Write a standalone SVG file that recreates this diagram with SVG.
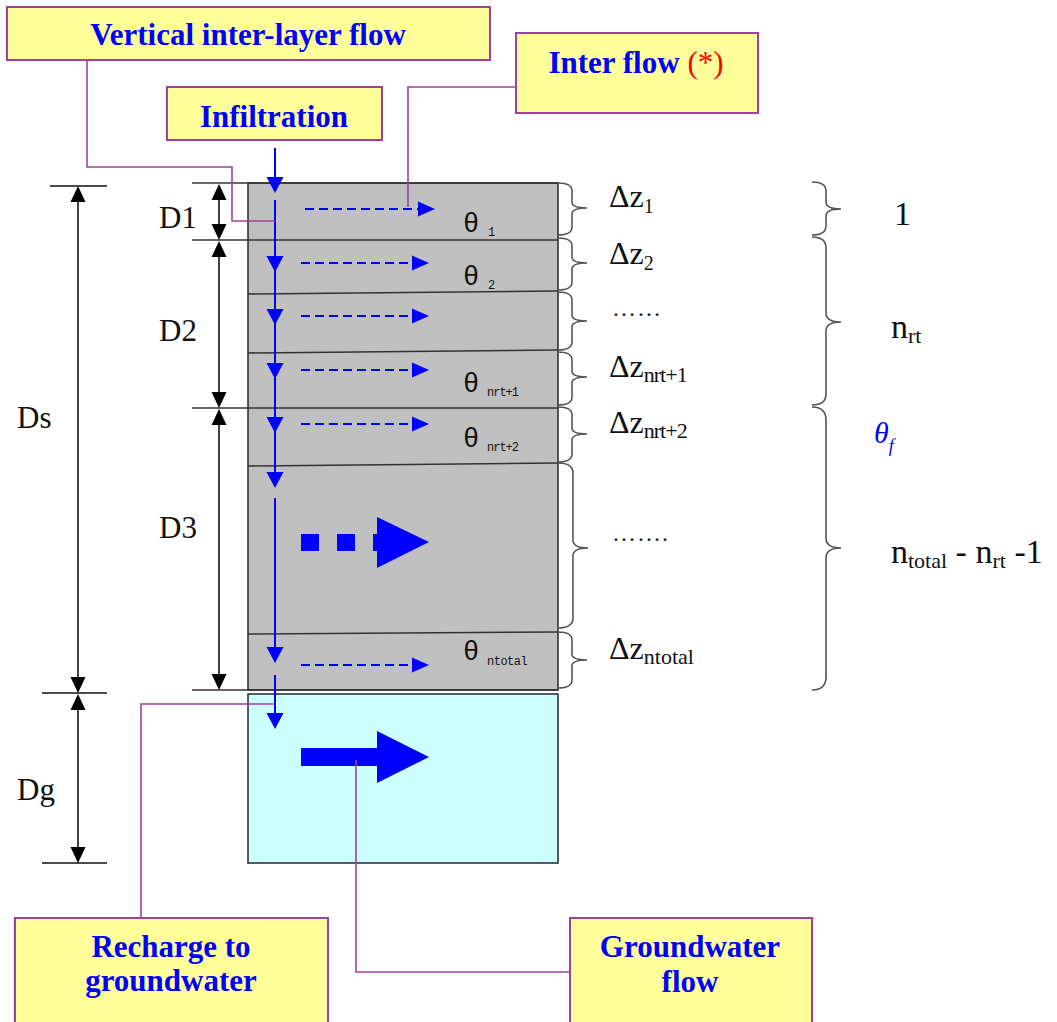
<svg xmlns="http://www.w3.org/2000/svg" xmlns:xlink="http://www.w3.org/1999/xlink" width="1057" height="1022" viewBox="0 0 1057 1022">
<style>
.box{fill:#ffff99;stroke:#a040a0;stroke-width:2}
.bt{font-family:"Liberation Serif","Times New Roman",serif;font-weight:bold;font-size:31px;fill:#0000ff;text-anchor:middle}
.conn{fill:none;stroke:#a040a0;stroke-width:1.6}
.blue{stroke:#0000ff;stroke-width:2;fill:none}
.dash{stroke:#0000ff;stroke-width:2;fill:none;stroke-dasharray:9,5}
.bf{fill:#0000ff}
.dim{stroke:#111;stroke-width:1.6;fill:none}
.layer{stroke:#333;stroke-width:1.6;fill:none}
.brace{stroke:#555;stroke-width:1.6;fill:none}
.lbl{font-family:"Liberation Serif","Times New Roman",serif;fill:#111}
.th{font-family:"Liberation Mono","Courier New",monospace;fill:#111}
</style>
<defs>
<path id="vhead" d="M-8.5,-16 L8.5,-16 L0,0 Z"/>
<path id="hhead" d="M-17,-7.5 L0,0 L-17,7.5 Z"/>
<path id="up" d="M0,0 L-7.5,16 L7.5,16 Z"/>
<path id="dn" d="M0,0 L-7.5,-16 L7.5,-16 Z"/>
</defs>

<!-- soil column -->
<g id="soil">
<rect x="248" y="183" width="310" height="507" fill="#c0c0c0" stroke="#333" stroke-width="1.6"/>
<line class="layer" x1="192" y1="183" x2="558" y2="183"/>
<line class="layer" x1="192" y1="240" x2="558" y2="240"/>
<path class="layer" d="M248,294 L558,291"/>
<path class="layer" d="M248,353 L558,350"/>
<line class="layer" x1="192" y1="408" x2="558" y2="408"/>
<path class="layer" d="M248,466 L558,463"/>
<path class="layer" d="M248,634 L558,632"/>
<line class="layer" x1="192" y1="690" x2="558" y2="690"/>
</g>
<g id="groundwater-zone">
<rect x="248" y="694" width="310" height="169" fill="#ccffff" stroke="#333" stroke-width="1.6"/>
</g>

<!-- flow arrows -->
<g id="flows">
<line class="blue" x1="275" y1="148" x2="275" y2="180"/>
<use xlink:href="#vhead" href="#vhead" x="275" y="193" class="bf"/>
<line class="blue" x1="275" y1="200" x2="275" y2="480"/>
<use xlink:href="#vhead" href="#vhead" x="275" y="272" class="bf"/>
<use xlink:href="#vhead" href="#vhead" x="275" y="325" class="bf"/>
<use xlink:href="#vhead" href="#vhead" x="275" y="379" class="bf"/>
<use xlink:href="#vhead" href="#vhead" x="275" y="433" class="bf"/>
<use xlink:href="#vhead" href="#vhead" x="275" y="488" class="bf"/>
<line class="blue" x1="275" y1="498" x2="275" y2="655"/>
<use xlink:href="#vhead" href="#vhead" x="275" y="663" class="bf"/>
<line class="blue" x1="275" y1="675" x2="275" y2="720"/>
<use xlink:href="#vhead" href="#vhead" x="275" y="729" class="bf"/>

<line class="dash" x1="305" y1="209" x2="418" y2="209"/>
<use xlink:href="#hhead" href="#hhead" x="435" y="209" class="bf"/>
<line class="dash" x1="301" y1="263" x2="412" y2="263"/>
<use xlink:href="#hhead" href="#hhead" x="429" y="263" class="bf"/>
<line class="dash" x1="301" y1="316" x2="412" y2="316"/>
<use xlink:href="#hhead" href="#hhead" x="429" y="316" class="bf"/>
<line class="dash" x1="301" y1="370" x2="412" y2="370"/>
<use xlink:href="#hhead" href="#hhead" x="429" y="370" class="bf"/>
<line class="dash" x1="301" y1="424" x2="412" y2="424"/>
<use xlink:href="#hhead" href="#hhead" x="429" y="424" class="bf"/>
<line class="dash" x1="301" y1="665" x2="412" y2="665"/>
<use xlink:href="#hhead" href="#hhead" x="429" y="665" class="bf"/>

<rect class="bf" x="301" y="534" width="18" height="17"/>
<rect class="bf" x="337" y="534" width="18" height="17"/>
<rect class="bf" x="373" y="534" width="8" height="17"/>
<path class="bf" d="M377,517 L429,542 L377,568 Z"/>

<path class="bf" d="M301,748 H377 V731 L429,757 L377,783 V766 H301 Z"/>
</g>

<!-- theta labels -->
<g id="theta-labels">
<text class="th" x="463" y="232" font-size="27">θ<tspan x="488" y="236" font-size="12">1</tspan></text>
<text class="th" x="463" y="285" font-size="27">θ<tspan x="488" y="289" font-size="12">2</tspan></text>
<text class="th" x="463" y="392" font-size="27">θ<tspan x="487" y="396" font-size="12" letter-spacing="-1">nrt+1</tspan></text>
<text class="th" x="463" y="447" font-size="27">θ<tspan x="487" y="451" font-size="12" letter-spacing="-1">nrt+2</tspan></text>
<text class="th" x="463" y="660" font-size="27">θ<tspan x="487" y="665" font-size="12" letter-spacing="-0.5">ntotal</tspan></text>
</g>

<!-- dimension lines -->
<g id="dimensions">
<line class="dim" x1="50" y1="186" x2="107" y2="186"/>
<line class="dim" x1="42" y1="693" x2="107" y2="693"/>
<line class="dim" x1="42" y1="863" x2="107" y2="863"/>
<line class="dim" x1="78" y1="190" x2="78" y2="689"/>
<use xlink:href="#up" href="#up" x="78" y="186"/>
<use xlink:href="#dn" href="#dn" x="78" y="693"/>
<line class="dim" x1="78" y1="698" x2="78" y2="859"/>
<use xlink:href="#up" href="#up" x="78" y="694"/>
<use xlink:href="#dn" href="#dn" x="78" y="863"/>

<line class="dim" x1="219" y1="186" x2="219" y2="238"/>
<use xlink:href="#up" href="#up" x="219" y="184"/>
<use xlink:href="#dn" href="#dn" x="219" y="240"/>
<line class="dim" x1="219" y1="243" x2="219" y2="405"/>
<use xlink:href="#up" href="#up" x="219" y="241"/>
<use xlink:href="#dn" href="#dn" x="219" y="408"/>
<line class="dim" x1="219" y1="411" x2="219" y2="687"/>
<use xlink:href="#up" href="#up" x="219" y="409"/>
<use xlink:href="#dn" href="#dn" x="219" y="690"/>

<text class="lbl" x="159" y="228" font-size="31">D1</text>
<text class="lbl" x="159" y="341" font-size="31">D2</text>
<text class="lbl" x="159" y="538" font-size="31">D3</text>
<text class="lbl" x="17" y="428" font-size="31">Ds</text>
<text class="lbl" x="17" y="800" font-size="31">Dg</text>
</g>

<!-- layer braces -->
<g id="layer-braces">
<path class="brace" d="M558,183 Q572,183 572,191 L572,202 Q572,208 587,208 Q572,208 572,214 L572,227 Q572,235 558,235"/>
<path class="brace" d="M558,238 Q572,238 572,246 L572,257 Q572,263 587,263 Q572,263 572,269 L572,282 Q572,290 558,290"/>
<path class="brace" d="M558,292 Q572,292 572,300 L572,315 Q572,321 587,321 Q572,321 572,327 L572,342 Q572,350 558,350"/>
<path class="brace" d="M558,352 Q572,352 572,360 L572,371 Q572,377 587,377 Q572,377 572,383 L572,397 Q572,405 558,405"/>
<path class="brace" d="M558,407 Q572,407 572,415 L572,428 Q572,434 587,434 Q572,434 572,440 L572,454 Q572,462 558,462"/>
<path class="brace" d="M558,463 Q573,463 573,473 L573,540 Q573,548 588,548 Q573,548 573,556 L573,618 Q573,628 558,628"/>
<path class="brace" d="M558,632 Q572,632 572,640 L572,654 Q572,660 587,660 Q572,660 572,666 L572,680 Q572,688 558,688"/>
</g>
<g id="dz-labels">
<text class="lbl" x="609" y="207" font-size="32">Δz<tspan y="213" font-size="20">1</tspan></text>
<text class="lbl" x="609" y="264" font-size="32">Δz<tspan y="270" font-size="20">2</tspan></text>
<text class="lbl" x="612" y="316" font-size="24" letter-spacing="1">……</text>
<text class="lbl" x="612" y="541" font-size="24" letter-spacing="1">…….</text>
<text class="lbl" x="609" y="377" font-size="32">Δz<tspan y="382" font-size="22" letter-spacing="-1">nrt+1</tspan></text>
<text class="lbl" x="609" y="433" font-size="32">Δz<tspan y="438" font-size="22" letter-spacing="-1">nrt+2</tspan></text>
<text class="lbl" x="609" y="659" font-size="32">Δz<tspan y="664" font-size="22">ntotal</tspan></text>
</g>

<!-- group braces -->
<g id="group-braces">
<path class="brace" d="M812,182 Q826,182 826,191 L826,202 Q826,209 841,209 Q826,209 826,216 L826,226 Q826,235 812,235"/>
<path class="brace" d="M812,237 Q826,237 826,248 L826,313 Q826,322 841,322 Q826,322 826,331 L826,394 Q826,405 812,405"/>
<path class="brace" d="M812,407 Q826,407 826,420 L826,538 Q826,548 841,548 Q826,548 826,558 L826,677 Q826,690 812,690"/>
<text class="lbl" x="894" y="225" font-size="34">1</text>
<text class="lbl" x="891" y="338" font-size="34">n<tspan y="343" font-size="22">rt</tspan></text>
<text x="874" y="443" font-family="Liberation Serif,serif" font-style="italic" font-size="30" fill="#0000ff">θ<tspan y="452" font-size="18">f</tspan></text>
<text class="lbl" x="891" y="563" font-size="34">n<tspan y="568" font-size="22">total</tspan><tspan y="563"> - n</tspan><tspan y="568" font-size="22">rt</tspan><tspan y="563"> -1</tspan></text>
</g>

<!-- connectors -->
<g id="connectors">
<path class="conn" d="M87,60 V167 H232 V221 H275"/>
<path class="conn" d="M516,87 H408 V207"/>
<path class="conn" d="M141,918 V704 H275"/>
<path class="conn" d="M356,760 V972 H570"/>
</g>

<!-- callout boxes -->
<g id="node-vertical">
<rect class="box" x="7" y="7" width="483" height="53"/>
<text class="bt" x="248" y="45">Vertical inter-layer flow</text>
</g>
<g id="node-infiltration">
<rect class="box" x="167" y="87" width="215" height="53"/>
<text class="bt" x="274" y="127">Infiltration</text>
</g>
<g id="node-interflow">
<rect class="box" x="516" y="33" width="242" height="80"/>
<text class="bt" x="636" y="73">Inter flow <tspan fill="#ff0000" font-weight="normal">(*)</tspan></text>
</g>
<g id="node-recharge">
<rect class="box" x="15" y="918" width="313" height="115"/>
<text class="bt" x="171" y="957">Recharge to</text>
<text class="bt" x="171" y="991">groundwater</text>
</g>
<g id="node-gwflow">
<rect class="box" x="570" y="918" width="242" height="115"/>
<text class="bt" x="690" y="957">Groundwater</text>
<text class="bt" x="690" y="992">flow</text>
</g>
</svg>
